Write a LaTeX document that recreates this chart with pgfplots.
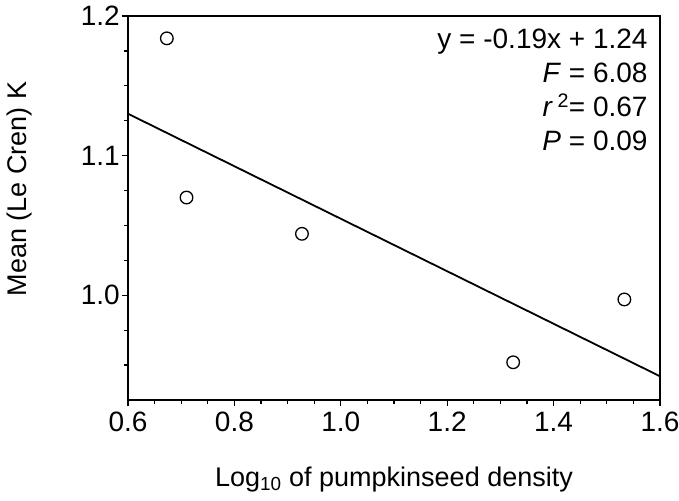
\documentclass[border=0pt]{standalone}
\usepackage{pgfplots}
\pgfplotsset{compat=1.18}
\usepackage{fontspec}
\setmainfont{Liberation Sans}
\begin{document}
\begin{tikzpicture}
\begin{axis}[
  scale only axis,
  width=532pt, height=384pt,
  xmin=0.6, xmax=1.6, ymin=0.925, ymax=1.2,
  axis line style={line width=1.4pt},
  xtick={0.6,0.8,1.0,1.2,1.4,1.6},
  ytick={1.0,1.1,1.2},
  minor xtick={0.65,0.7,...,1.55},
  minor ytick={0.95,0.975,1.025,1.05,1.075,1.125,1.15,1.175},
  xticklabels={0.6,0.8,1.0,1.2,1.4,1.6},
  yticklabels={1.0,1.1,1.2},
  /pgf/number format/assume math mode=true,
  tick align=outside,
  tick pos=left,
  major tick length=6pt, minor tick length=4pt,
  every tick/.style={black, line width=1.2pt},
  every minor tick/.style={black, line width=1.2pt},
  tick label style={font=\fontsize{28}{30}\selectfont, inner sep=0pt},
  xticklabel style={anchor=north, yshift=-6pt},
  yticklabel style={anchor=east, xshift=-2pt},
  xlabel={Log\textsubscript{10} of pumpkinseed density},
  ylabel={Mean (Le Cren) K},
  label style={font=\fontsize{27}{30}\selectfont},
  xlabel style={at={(axis description cs:0.5,0)}, anchor=base, yshift=-86pt},
  ylabel style={at={(axis description cs:-0.203,0.55)}, anchor=center},
  clip=false,
]
\addplot[black, line width=1.8pt] coordinates {(0.6,1.130) (1.6,0.942)};
\addplot[only marks, mark=o, mark size=6.3pt, mark options={line width=1.3pt, black}] coordinates {
(0.673,1.184) (0.710,1.070) (0.927,1.044) (1.324,0.952) (1.533,0.997)};
\node[anchor=north east, align=right, font=\fontsize{28}{34}\selectfont, inner sep=0pt] at (rel axis cs:0.977,0.968)
  {y = -0.19x + 1.24\\ \textit{F} = 6.08\\ \textit{r}\,\textsuperscript{2}= 0.67\\ \textit{P} = 0.09};
\coordinate (sw) at (rel axis cs:0,0);
\end{axis}
\pgfresetboundingbox
\path (sw) ++(-128pt,-100pt) rectangle ++(679pt,500pt);
\end{tikzpicture}
\end{document}
